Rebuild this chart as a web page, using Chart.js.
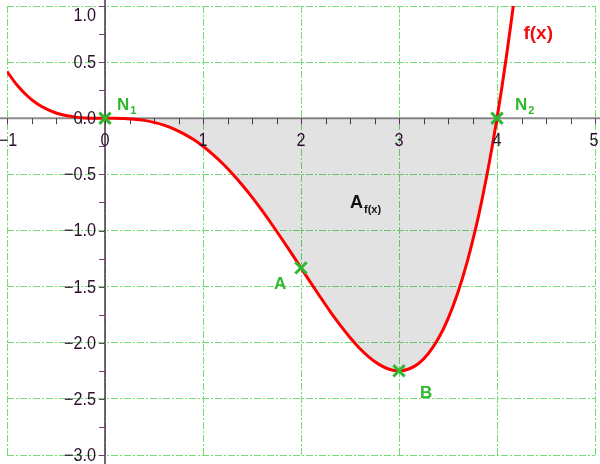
<!DOCTYPE html>
<html>
<head>
<meta charset="utf-8">
<script src="https://cdn.jsdelivr.net/npm/chart.js@4/dist/chart.umd.min.js"></script>
<style>
html,body{margin:0;padding:0;background:#fff;}
#wrap{width:600px;height:464px;}
</style>
</head>
<body>
<div id="wrap"><canvas id="c" width="600" height="464"></canvas></div>
<script>
// Curve samples
const xs = [-1,-0.9,-0.8,-0.7,-0.6,-0.5,-0.4,-0.3,-0.2,-0.1,0,0.1,0.2,0.3,0.4,0.5,0.6,0.7,0.8,0.9,1,1.1,1.2,1.3,1.4,1.5,1.6,1.7,1.8,1.9,2,2.1,2.2,2.3,2.4,2.5,2.6,2.7,2.8,2.9,3,3.1,3.2,3.3,3.4,3.5,3.6,3.7,3.8,3.85,3.9,3.95,4,4.05,4.1,4.15,4.17];
const ys = [0.417,0.298,0.205,0.134,0.083,0.047,0.024,0.010,0.003,0.000,0,-0.000,-0.003,-0.008,-0.019,-0.037,-0.061,-0.094,-0.137,-0.188,-0.25,-0.322,-0.403,-0.494,-0.595,-0.703,-0.819,-0.942,-1.069,-1.200,-1.333,-1.466,-1.597,-1.724,-1.843,-1.953,-2.051,-2.132,-2.195,-2.236,-2.25,-2.234,-2.185,-2.096,-1.965,-1.787,-1.555,-1.266,-0.915,-0.713,-0.494,-0.257,0,0.277,0.574,0.893,1.027];
// Marked points
const pointNames = ['N','A','B','N'];
const pointSubs = ['1','','','2'];
const pointX = [0,2,3,4];
const pointY = [0,-1.333,-2.25,0];
// Tick labels
const xTickLabels = ['\u22121','0','1','2','3','4','5'];
const xTickValues = [-1,0,1,2,3,4,5];
const yTickLabels = ['1.0','0.5','0.0','\u22120.5','\u22121.0','\u22121.5','\u22122.0','\u22122.5','\u22123.0'];
const yTickValues = [1,0.5,0,-0.5,-1,-1.5,-2,-2.5,-3];
// Text annotations
const curveLabel = {text:'f(x)', x:4.27, y:0.71};
const areaLabel = {text:'A', sub:'f(x)', x:2.5, y:-0.8};

const curve = xs.map((x,i)=>({x:x,y:ys[i]}));
const area = curve.filter(p=>p.x>=0 && p.x<=4);
const marks = pointX.map((x,i)=>({x:x,y:pointY[i]}));

const labelOffsets = [[12,-8],[-27,21],[21,27],[18,-8]];
const GREEN = '#2fb82f';
const SQ = 0.9; // horizontal squeeze of tick label font

function narrowText(ctx, t, x, y, align){
  ctx.save();
  ctx.translate(x, y);
  ctx.scale(SQ, 1);
  ctx.textAlign = align;
  ctx.fillText(t, 0, 0);
  ctx.restore();
}

const axesPlugin = {
  id:'axes',
  beforeDatasetsDraw(chart){
    const {ctx, scales:{x:sx,y:sy}} = chart;
    const x0 = sx.getPixelForValue(0), y0 = sy.getPixelForValue(0);
    ctx.save();
    ctx.strokeStyle = '#8c8c8c'; ctx.lineWidth = 2;
    ctx.beginPath(); ctx.moveTo(0,y0); ctx.lineTo(chart.width,y0); ctx.stroke();
    ctx.strokeStyle = '#5a3a5a'; ctx.lineWidth = 1;
    for(let v=-1; v<=5.001; v+=0.25){
      const px = Math.round(sx.getPixelForValue(v))+0.5;
      ctx.beginPath(); ctx.moveTo(px,y0); ctx.lineTo(px,y0+6); ctx.stroke();
    }
    ctx.strokeStyle = '#4a304a'; ctx.lineWidth = 1.5;
    ctx.beginPath(); ctx.moveTo(x0,0); ctx.lineTo(x0,chart.height); ctx.stroke();
    ctx.strokeStyle = '#7a3a7a'; ctx.lineWidth = 1;
    for(let v=-3; v<=1.001; v+=0.25){
      const py = Math.round(sy.getPixelForValue(v))+0.5;
      ctx.beginPath(); ctx.moveTo(x0-6,py); ctx.lineTo(x0,py); ctx.stroke();
    }
    ctx.restore();
  },
  afterDatasetsDraw(chart){
    const {ctx, scales:{x:sx,y:sy}} = chart;
    const x0 = sx.getPixelForValue(0), y0 = sy.getPixelForValue(0);
    ctx.save();
    ctx.fillStyle = '#2a102a';
    ctx.font = '18px "Liberation Sans", Arial, sans-serif';
    ctx.textBaseline = 'middle';
    yTickLabels.forEach((t,i)=>{
      let py = sy.getPixelForValue(yTickValues[i]);
      if(py < 15) py = 15;
      narrowText(ctx, t, x0-9, py+1, 'right');
    });
    xTickLabels.forEach((t,i)=>{
      let px = sx.getPixelForValue(xTickValues[i]);
      if(px > 594) px = 594;
      if(i===0) px = 8;
      narrowText(ctx, t, px, y0+23, 'center');
    });
    ctx.fillStyle = GREEN; ctx.textAlign='left'; ctx.textBaseline='alphabetic';
    pointNames.forEach((n,i)=>{
      const px = sx.getPixelForValue(pointX[i]) + labelOffsets[i][0];
      const py = sy.getPixelForValue(pointY[i]) + labelOffsets[i][1];
      ctx.font = 'bold 17px "Liberation Sans", Arial, sans-serif';
      ctx.fillText(n, px, py);
      if(pointSubs[i]){
        const w = ctx.measureText(n).width;
        ctx.font = 'bold 11px "Liberation Sans", Arial, sans-serif';
        ctx.fillText(pointSubs[i], px+w+1, py+4);
      }
    });
    ctx.fillStyle = '#ee1111';
    ctx.font = 'bold 19px "Liberation Sans", Arial, sans-serif';
    ctx.fillText(curveLabel.text, sx.getPixelForValue(curveLabel.x), sy.getPixelForValue(curveLabel.y));
    ctx.fillStyle = '#111';
    const ax = sx.getPixelForValue(areaLabel.x), ay = sy.getPixelForValue(areaLabel.y);
    ctx.font = 'bold 18px "Liberation Sans", Arial, sans-serif';
    ctx.fillText(areaLabel.text, ax, ay);
    const aw = ctx.measureText(areaLabel.text).width;
    ctx.font = 'bold 11px "Liberation Sans", Arial, sans-serif';
    ctx.fillText(areaLabel.sub, ax+aw+1, ay+5);
    ctx.restore();
  }
};

new Chart(document.getElementById('c'), {
  type:'line',
  data:{
    datasets:[
      {label:'curve', data:curve, borderColor:'#ff0000', borderWidth:3, pointRadius:0, fill:false, cubicInterpolationMode:'monotone', order:2},
      {label:'area', data:area, borderWidth:0, borderColor:'rgba(0,0,0,0)', backgroundColor:'rgba(0,0,0,0.115)', pointRadius:0, fill:'origin', cubicInterpolationMode:'monotone', order:3},
      {label:'points', data:marks, showLine:false, pointStyle:'crossRot', pointRadius:8, pointBorderWidth:3, borderColor:GREEN, backgroundColor:GREEN, order:1}
    ]
  },
  options:{
    responsive:false, animation:false, devicePixelRatio:1,
    layout:{autoPadding:false, padding:{left:7,right:5,top:6,bottom:9}},
    plugins:{legend:{display:false}, tooltip:{enabled:false}},
    scales:{
      x:{type:'linear', min:-1, max:5, afterFit(s){s.height=0;}, ticks:{display:false, stepSize:1}, grid:{color:'#74dc74', lineWidth:1, drawTicks:false}, border:{display:false, dash:[7,2,2,2]}},
      y:{type:'linear', min:-3, max:1, afterFit(s){s.width=0;}, ticks:{display:false, stepSize:0.5}, grid:{color:'#74dc74', lineWidth:1, drawTicks:false}, border:{display:false, dash:[7,2,2,2]}}
    }
  },
  plugins:[axesPlugin]
});
</script>
</body>
</html>
